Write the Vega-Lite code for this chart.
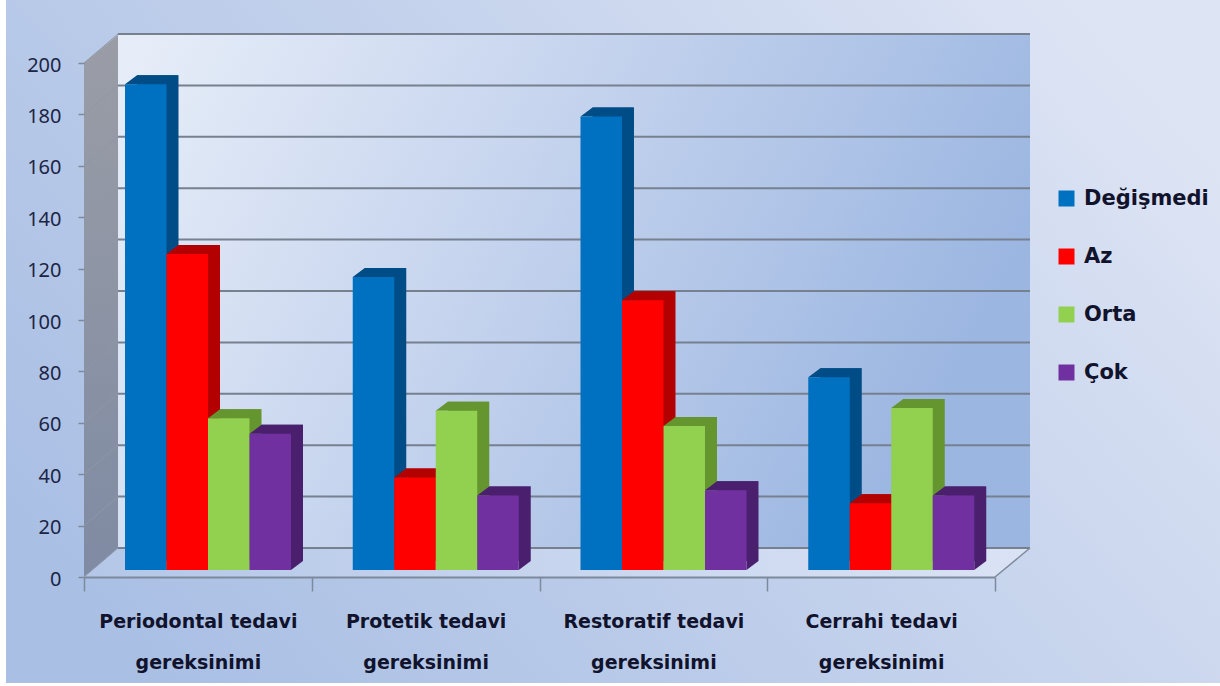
{
  "$schema": "https://vega.github.io/schema/vega-lite/v6.json",
  "width": 1214,
  "height": 683,
  "padding": {"left": 6, "top": 0, "right": 0, "bottom": 3},
  "autosize": {"type": "none"},
  "background": "#ffffff",
  "view": {
    "stroke": null,
    "fill": {
      "gradient": "linear", "x1": 0, "y1": 0.75, "x2": 1, "y2": 0.25,
      "stops": [{"offset": 0, "color": "#a9bfe4"}, {"offset": 0.55, "color": "#c4d2ec"}, {"offset": 1, "color": "#dde4f4"}]
    }
  },
  "config": {"font": "Noto Sans"},
  "resolve": {"scale": {"xOffset": "independent"}},
  "datasets": {
    "needs": [
      {"need": "Periodontal tedavi gereksinimi", "change": "Değişmedi", "n": 189},
      {"need": "Periodontal tedavi gereksinimi", "change": "Az", "n": 123},
      {"need": "Periodontal tedavi gereksinimi", "change": "Orta", "n": 59},
      {"need": "Periodontal tedavi gereksinimi", "change": "Çok", "n": 53},
      {"need": "Protetik tedavi gereksinimi", "change": "Değişmedi", "n": 114},
      {"need": "Protetik tedavi gereksinimi", "change": "Az", "n": 36},
      {"need": "Protetik tedavi gereksinimi", "change": "Orta", "n": 62},
      {"need": "Protetik tedavi gereksinimi", "change": "Çok", "n": 29},
      {"need": "Restoratif tedavi gereksinimi", "change": "Değişmedi", "n": 176.5},
      {"need": "Restoratif tedavi gereksinimi", "change": "Az", "n": 105},
      {"need": "Restoratif tedavi gereksinimi", "change": "Orta", "n": 56},
      {"need": "Restoratif tedavi gereksinimi", "change": "Çok", "n": 31},
      {"need": "Cerrahi tedavi gereksinimi", "change": "Değişmedi", "n": 75},
      {"need": "Cerrahi tedavi gereksinimi", "change": "Az", "n": 26},
      {"need": "Cerrahi tedavi gereksinimi", "change": "Orta", "n": 63},
      {"need": "Cerrahi tedavi gereksinimi", "change": "Çok", "n": 29}
    ],
    "anchor": [{"need": "Periodontal tedavi gereksinimi", "v": 0}],
    "ticks": [
      {"need": "Periodontal tedavi gereksinimi", "v": 0},
      {"need": "Periodontal tedavi gereksinimi", "v": 20},
      {"need": "Periodontal tedavi gereksinimi", "v": 40},
      {"need": "Periodontal tedavi gereksinimi", "v": 60},
      {"need": "Periodontal tedavi gereksinimi", "v": 80},
      {"need": "Periodontal tedavi gereksinimi", "v": 100},
      {"need": "Periodontal tedavi gereksinimi", "v": 120},
      {"need": "Periodontal tedavi gereksinimi", "v": 140},
      {"need": "Periodontal tedavi gereksinimi", "v": 160},
      {"need": "Periodontal tedavi gereksinimi", "v": 180},
      {"need": "Periodontal tedavi gereksinimi", "v": 200}
    ]
  },
  "layer": [
    {
      "description": "Back wall of the box",
      "data": {"name": "anchor"},
      "mark": {
        "type": "point", "filled": true, "opacity": 1, "size": 4,
        "shape": "M34,-29 H946 V-542 H34 Z",
        "fill": {
          "gradient": "linear", "x1": 0, "y1": 0.1, "x2": 1, "y2": 0.4,
          "stops": [{"offset": 0, "color": "#e6edf8"}, {"offset": 0.45, "color": "#c6d4ee"}, {"offset": 1, "color": "#9bb6e1"}]
        }
      },
      "encoding": {
        "x": {
          "field": "need", "type": "nominal", "bandPosition": 0, "title": null,
          "sort": null,
          "scale": {
            "type": "band", "range": [78, 989], "paddingInner": 0, "paddingOuter": 0,
            "domain": ["Periodontal tedavi gereksinimi", "Protetik tedavi gereksinimi", "Restoratif tedavi gereksinimi", "Cerrahi tedavi gereksinimi"]
          },
          "axis": {
            "orient": "bottom", "offset": -106, "zindex": 1,
            "labelAngle": 0, "labelAlign": "center", "labelBaseline": "top",
            "labelFont": "DejaVu Sans", "labelFontWeight": "bold", "labelFontSize": 19,
            "labelColor": "#11132c", "labelLineHeight": 41, "labelPadding": 21,
            "labelExpr": "split(replace(datum.label, ' gerek', '|gerek'), '|')",
            "labelLimit": 0, "tickBand": "extent", "tickSize": 14, "tickColor": "#7d8a9c", "tickWidth": 1.5,
            "domainColor": "#7d8a9c", "domainWidth": 2
          }
        },
        "y": {
          "field": "v", "type": "quantitative", "title": null,
          "scale": {"domain": [0, 200], "range": [577, 63], "nice": false, "zero": true},
          "axis": {
            "orient": "left", "offset": -78, "zindex": 1, "values": [0, 20, 40, 60, 80, 100, 120, 140, 160, 180, 200],
            "grid": false, "domain": false, "tickSize": 6, "tickColor": "#7d8a9c", "tickWidth": 1.5,
            "labelFont": "Noto Sans", "labelFontSize": 20, "labelColor": "#1c2545", "labelPadding": 17, "labelOffset": 2
          }
        }
      }
    },
    {
      "description": "Left wall of the box",
      "data": {"name": "anchor"},
      "mark": {
        "type": "point", "filled": true, "opacity": 1, "size": 4,
        "shape": "M0,0 L34,-29 V-542 L0,-514 Z",
        "fill": {
          "gradient": "linear", "x1": 0, "y1": 0, "x2": 0, "y2": 1,
          "stops": [{"offset": 0, "color": "#9a9da6"}, {"offset": 1, "color": "#7f8ba3"}]
        }
      },
      "encoding": {
        "x": {"field": "need", "type": "nominal", "bandPosition": 0},
        "y": {"field": "v", "type": "quantitative"}
      }
    },
    {
      "description": "Floor of the box",
      "data": {"name": "anchor"},
      "mark": {
        "type": "point", "filled": true, "opacity": 1, "size": 4,
        "shape": "M0,0 H911 L946,-29 H34 Z",
        "fill": {
          "gradient": "linear", "x1": 0, "y1": 0, "x2": 1, "y2": 0,
          "stops": [{"offset": 0, "color": "#b4c7e8"}, {"offset": 1, "color": "#dae3f4"}]
        }
      },
      "encoding": {
        "x": {"field": "need", "type": "nominal", "bandPosition": 0},
        "y": {"field": "v", "type": "quantitative"}
      }
    },
    {
      "description": "Gridlines across the back wall",
      "data": {"name": "ticks"},
      "mark": {
        "type": "point", "filled": false, "opacity": 1, "size": 4,
        "shape": "M34,-29 H946", "stroke": "#76808f", "strokeWidth": 2
      },
      "encoding": {
        "x": {"field": "need", "type": "nominal", "bandPosition": 0},
        "y": {"field": "v", "type": "quantitative"}
      }
    },
    {
      "description": "Gridlines across the left wall",
      "data": {"name": "ticks"},
      "mark": {
        "type": "point", "filled": false, "opacity": 1, "size": 4,
        "shape": "M0,0 L34,-29", "stroke": "#8f97a6", "strokeWidth": 1
      },
      "encoding": {
        "x": {"field": "need", "type": "nominal", "bandPosition": 0},
        "y": {"field": "v", "type": "quantitative"}
      }
    },
    {
      "description": "Right edge of the floor",
      "data": {"name": "anchor"},
      "mark": {
        "type": "point", "filled": false, "opacity": 1, "size": 4,
        "shape": "M911,0 L946,-29", "stroke": "#7d8a9c", "strokeWidth": 1.5
      },
      "encoding": {
        "x": {"field": "need", "type": "nominal", "bandPosition": 0},
        "y": {"field": "v", "type": "quantitative"}
      }
    },
    {
      "description": "Side faces of the bars, shifted back and up from the fronts",
      "data": {"name": "needs"},
      "mark": {"type": "bar", "yOffset": -16, "y2Offset": -16},
      "encoding": {
        "x": {"field": "need", "type": "nominal"},
        "xOffset": {
          "field": "change", "type": "nominal",
          "scale": {"type": "band", "domain": ["Değişmedi", "Az", "Orta", "Çok"], "range": [53, 219], "paddingInner": 0, "paddingOuter": 0}
        },
        "y": {"field": "n", "type": "quantitative", "stack": null},
        "y2": {"datum": 0},
        "fill": {
          "field": "change", "type": "nominal", "legend": null,
          "scale": {"domain": ["Çok", "Orta", "Az", "Değişmedi"], "range": ["#4a206e", "#65952f", "#b30000", "#004c87"]}
        }
      }
    },
    {
      "description": "Lower corner of the side faces",
      "data": {"name": "needs"},
      "mark": {"type": "point", "filled": true, "opacity": 1, "size": 4, "shape": "M20.75,-7 L32.75,-16 L20.75,-16 Z"},
      "encoding": {
        "x": {"field": "need", "type": "nominal"},
        "xOffset": {
          "field": "change", "type": "nominal",
          "scale": {"type": "band", "domain": ["Değişmedi", "Az", "Orta", "Çok"], "range": [41, 207], "paddingInner": 0, "paddingOuter": 0}
        },
        "y": {"datum": 0, "type": "quantitative"},
        "fill": {"field": "change", "type": "nominal", "legend": null}
      }
    },
    {
      "description": "Top faces of the bars",
      "data": {"name": "needs"},
      "mark": {"type": "point", "filled": true, "opacity": 1, "size": 4, "shape": "M-20.75,-7 H20.75 L32.75,-16 H-8.75 Z"},
      "encoding": {
        "x": {"field": "need", "type": "nominal"},
        "xOffset": {
          "field": "change", "type": "nominal",
          "scale": {"type": "band", "domain": ["Değişmedi", "Az", "Orta", "Çok"], "range": [41, 207], "paddingInner": 0, "paddingOuter": 0}
        },
        "y": {"field": "n", "type": "quantitative"},
        "fill": {"field": "change", "type": "nominal", "legend": null}
      }
    },
    {
      "description": "Front faces of the bars",
      "data": {"name": "needs"},
      "mark": {"type": "bar", "yOffset": -7, "y2Offset": -7},
      "encoding": {
        "x": {"field": "need", "type": "nominal"},
        "xOffset": {
          "field": "change", "type": "nominal",
          "scale": {"type": "band", "domain": ["Değişmedi", "Az", "Orta", "Çok"], "range": [41, 207], "paddingInner": 0, "paddingOuter": 0}
        },
        "y": {"field": "n", "type": "quantitative", "stack": null},
        "y2": {"datum": 0},
        "color": {
          "field": "change", "type": "nominal",
          "scale": {"domain": ["Değişmedi", "Az", "Orta", "Çok"], "range": ["#0070c0", "#ff0000", "#92d050", "#7030a0"]},
          "legend": {
            "title": null, "orient": "none", "legendX": 1050, "legendY": 188, "padding": 0,
            "symbolType": "square", "symbolSize": 256,
            "labelFont": "DejaVu Sans", "labelFontWeight": "bold", "labelFontSize": 21, "labelColor": "#11132c",
            "labelOffset": 7, "rowPadding": 36, "labelLimit": 300
          }
        }
      }
    }
  ]
}
